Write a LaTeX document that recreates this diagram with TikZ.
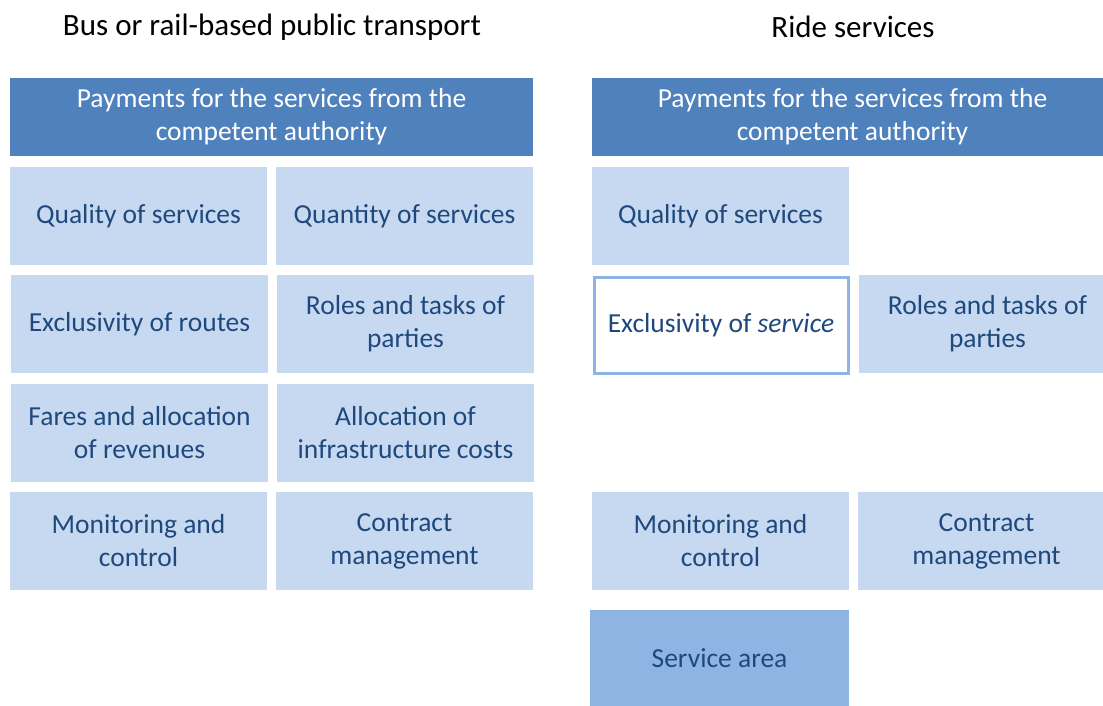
\documentclass[tikz,border=0pt]{standalone}
\usepackage{fontspec}
\setmainfont{Carlito}
\definecolor{headblue}{HTML}{4F81BD}
\definecolor{lightblue}{HTML}{C6D9F1}
\definecolor{midblue}{HTML}{8EB4E3}
\definecolor{textblue}{HTML}{1F497D}
\begin{document}
\begin{tikzpicture}[x=1pt,y=-1pt,
	head/.style={fill=headblue,text=white,minimum width=#1,minimum height=78pt,inner sep=0pt,align=center,font=\fontsize{27.5}{33}\selectfont},
	cell/.style={fill=lightblue,text=textblue,minimum width=#1,minimum height=98pt,inner sep=0pt,align=center,font=\fontsize{27.5}{33}\selectfont},
	cell/.default=257pt,
	title/.style={font=\fontsize{31}{36}\selectfont}]
	\useasboundingbox (0,0) rectangle (1103,706);
	
	\node[title] (tl) at (272,27) {Bus or rail-based public transport};
	\node[title] (tr) at (853,27) {Ride services};
	
	\node[head=523pt] (hl) at (271.5,117) {Payments for the services from the\\competent authority};
	\node[cell] (ql) at (138.5,216) {Quality of services};
	\node[cell] (nl) at (404.5,216) {Quantity of services};
	\node[cell] (el) at (139.5,324) {Exclusivity of routes};
	\node[cell] (rl) at (405.5,324) {Roles and tasks of\\parties};
	\node[cell] (fl) at (139.5,433) {Fares and allocation\\of revenues};
	\node[cell] (al) at (405.5,433) {Allocation of\\infrastructure costs};
	\node[cell] (ml) at (138.5,541) {Monitoring and\\control};
	\node[cell] (cl) at (404.5,541) {Contract\\management};
	
	\node[head=521pt] (hr) at (852.5,117) {Payments for the services from the\\competent authority};
	\node[cell] (qr) at (720.5,216) {Quality of services};
	\node[cell,fill=white,draw=midblue,line width=3pt,minimum width=254pt,minimum height=96pt] (er) at (721,325) {Exclusivity of \textit{service}};
	\node[cell] (rr) at (987.5,324) {Roles and tasks of\\parties};
	\node[cell] (mr) at (720.5,541) {Monitoring and\\control};
	\node[cell] (cr) at (986.5,541) {Contract\\management};
	\node[cell=259pt,fill=midblue,minimum height=96pt] (sr) at (719.5,658) {Service area};
\end{tikzpicture}
\end{document}
